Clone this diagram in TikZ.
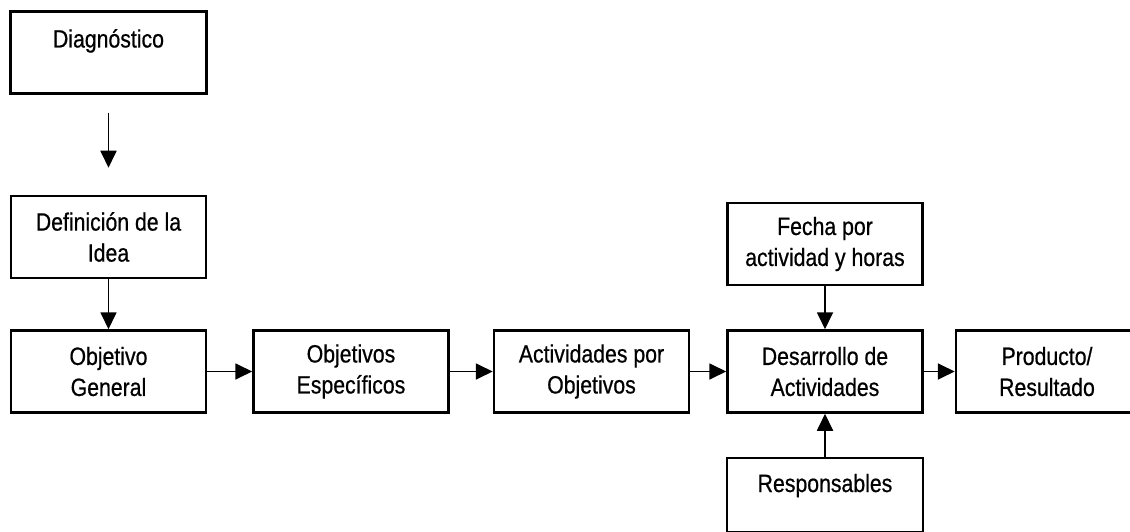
\documentclass[tikz,border=0pt]{standalone}
\usepackage{fontspec}
\setmainfont[FakeStretch=0.85,FakeBold=0.6]{Liberation Sans}
\usepackage{tikz}
\usetikzlibrary{arrows.meta,positioning}

\begin{document}
\begin{tikzpicture}[->,>={Triangle[length=17pt,width=16pt]},line width=1.8pt,
    font=\fontsize{25pt}{31pt}\selectfont,
    main node/.style={-,draw,line width=2.5pt,align=center,minimum width=195pt,minimum height=82pt,inner sep=2pt},
    top node/.style={-,draw,line width=2.5pt,inner sep=0pt,minimum width=196pt}]
    \useasboundingbox (0,0) rectangle (1130pt,-532pt);
    \node[main node] (2) at (108.5pt,-371.5pt) {Objetivo\\General};
    \node[main node] (1) [above=50pt of 2] {Definición de la\\Idea};
    \node[top node,text height=36pt,text depth=46pt] (0) [above=100pt of 1] {Diagnóstico};
    \node[main node] (3) [right=45pt of 2] {Objetivos\\Específicos};
    \node[main node] (4) [right=43pt of 3] {Actividades por\\Objetivos};
    \node[main node] (5) [right=36pt of 4] {Desarrollo de\\Actividades};
    \node[main node,minimum width=182pt] (6) [right=31pt of 5] {Producto/\\Resultado};
    \node[main node] (7) [above=43pt of 5] {Fecha por\\actividad y horas};
    \node[top node,text height=34pt,text depth=40pt] (8) [below=43pt of 5] {Responsables};
    \draw[shorten <=18pt,shorten >=27pt] (0) -- (1);
    \draw (1) -- (2);
    \draw (2) -- (3);
    \draw (3) -- (4);
    \draw (4) -- (5);
    \draw (5) -- (6);
    \draw (7) -- (5);
    \draw (8) -- (5);
  \end{tikzpicture}
\end{document}
